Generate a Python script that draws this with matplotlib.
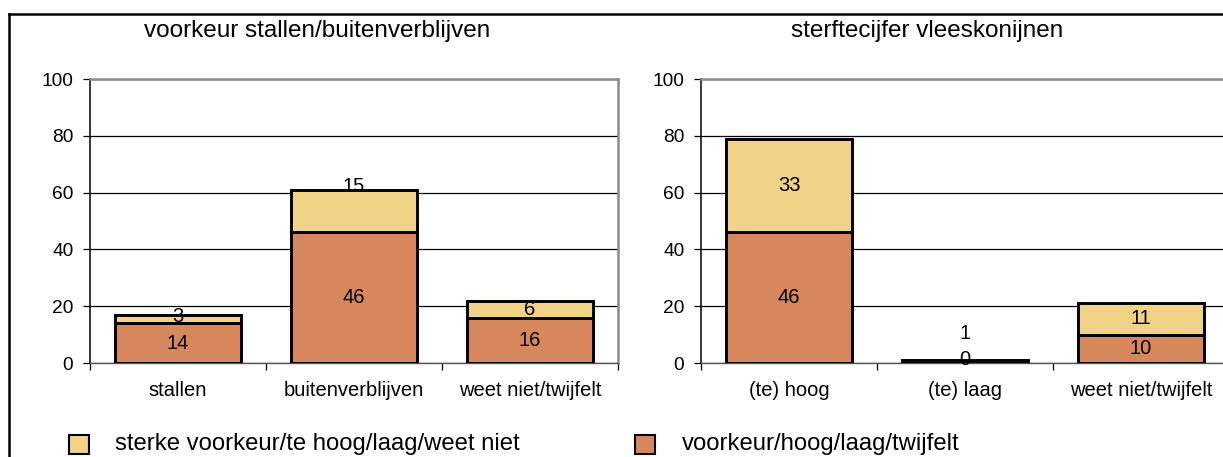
import matplotlib
matplotlib.use("Agg")
import matplotlib.pyplot as plt
from matplotlib.patches import Rectangle
from matplotlib.lines import Line2D
import numpy as np

plt.rcParams['font.family'] = ['Liberation Sans', 'DejaVu Sans']

# ---- data ----
left_title = "voorkeur stallen/buitenverblijven"
left_categories = ["stallen", "buitenverblijven", "weet niet/twijfelt"]
left_bottom = [14, 46, 16]      # voorkeur/hoog/laag/twijfelt
left_top = [3, 15, 6]           # sterke voorkeur/te hoog/laag/weet niet

right_title = "sterftecijfer vleeskonijnen"
right_categories = ["(te) hoog", "(te) laag", "weet niet/twijfelt"]
right_bottom = [46, 0, 10]
right_top = [33, 1, 11]

series_names = ["sterke voorkeur/te hoog/laag/weet niet", "voorkeur/hoog/laag/twijfelt"]
yticks = [0, 20, 40, 60, 80, 100]

# ---- style ----
ORANGE = "#D6885C"
YELLOW = "#F0D387"
W, H = 1223, 457
fig = plt.figure(figsize=(W / 100, H / 100), dpi=100)

def fx(px):
    return px / W

def fy(py):
    return 1 - py / H

# label position overrides (Excel placement quirks)
label_override = {
    ("L", "top", 0): 16.5,
    ("L", "top", 1): 62,
    ("R", "bottom", 1): 1.2,
    ("R", "top", 1): 10.5,
}

def draw_panel(key, rect, cats, bottom, top, xmax):
    ax = fig.add_axes(rect)
    x = np.arange(len(cats))
    bw = 0.716
    ax.bar(x, bottom, width=bw, color=ORANGE, edgecolor="black", linewidth=2.1, zorder=3)
    ax.bar(x, top, bottom=bottom, width=bw, color=YELLOW, edgecolor="black", linewidth=2.1, zorder=3)
    for i in range(len(cats)):
        yb = label_override.get((key, "bottom", i), bottom[i] / 2)
        yt = label_override.get((key, "top", i), bottom[i] + top[i] / 2)
        ax.text(x[i], yb, str(bottom[i]), ha="center", va="center", fontsize=14.5, zorder=5)
        ax.text(x[i], yt, str(top[i]), ha="center", va="center", fontsize=14.5, zorder=5)
    ax.set_xlim(-0.5, xmax)
    ax.set_ylim(0, 100)
    ax.set_yticks(yticks)
    ax.set_yticklabels([str(v) for v in yticks], fontsize=13.8)
    ax.tick_params(axis="y", length=5, width=0.9, pad=7, color="black")
    ax.set_xticks(x)
    ax.set_xticklabels(cats, fontsize=14.5)
    ax.tick_params(axis="x", which="major", length=0, pad=13)
    ax.set_xticks(np.arange(len(cats) + 1) - 0.5, minor=True)
    ax.tick_params(axis="x", which="minor", length=5, width=0.9, color="black", direction="out")
    ax.yaxis.grid(True, color="black", linewidth=0.9, zorder=0)
    ax.set_axisbelow(True)
    ax.spines["left"].set_color("black")
    ax.spines["left"].set_linewidth(1.1)
    ax.spines["bottom"].set_color("#555555")
    ax.spines["bottom"].set_linewidth(1.0)
    ax.spines["top"].set_color("#8c8c8c")
    ax.spines["top"].set_linewidth(1.8)
    ax.spines["right"].set_color("#8c8c8c")
    ax.spines["right"].set_linewidth(1.8)
    return ax

axL = draw_panel("L", [fx(90), fy(363), fx(528), (363 - 79) / H],
                 left_categories, left_bottom, left_top, 2.5)
axR = draw_panel("R", [fx(701), fy(363), fx(528), (363 - 79) / H],
                 right_categories, right_bottom, right_top, 2.5)

# titles
fig.text(fx(317), fy(31), left_title, ha="center", va="center", fontsize=17.5)
fig.text(fx(927), fy(31), right_title, ha="center", va="center", fontsize=17.5)

# legend
for (sx, tx), name, col in zip([(69, 115), (635, 682)], series_names, [YELLOW, ORANGE]):
    fig.add_artist(Rectangle((fx(sx), fy(454)), fx(20), 19 / H, facecolor=col,
                             edgecolor="black", linewidth=1.5, transform=fig.transFigure))
    fig.text(fx(tx), fy(444), name, ha="left", va="center", fontsize=17.2)

# outer frame
fig.add_artist(Line2D([fx(9), fx(9)], [fy(14), 0], color="black", linewidth=1.8,
                      transform=fig.transFigure))
fig.add_artist(Line2D([fx(9), 1], [fy(14), fy(14)], color="black", linewidth=1.8,
                      transform=fig.transFigure))

fig.savefig("out.png", dpi=100)
